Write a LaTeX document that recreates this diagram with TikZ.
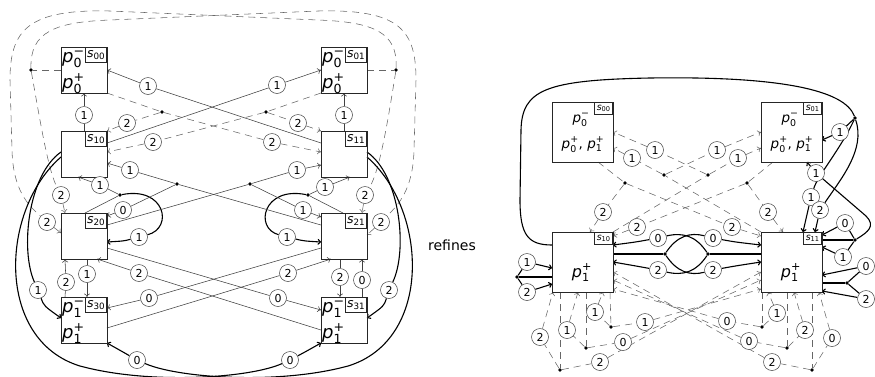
\documentclass[tikz,border=0pt]{standalone}
\usepackage{amsmath}
\usepackage{fontspec}
\setmainfont{DejaVu Sans}
\setsansfont{DejaVu Sans}
\usetikzlibrary{arrows.meta,calc}
\newcommand{\pv}[2]{$\mathit{p}_{\text{#1}}^{\text{#2}}$}
\newcommand{\sv}[1]{$\mathit{s}_{\text{#1}}$}
\pgfdeclarelayer{bg}
\pgfsetlayers{bg,main}
\begin{document}
\begin{tikzpicture}[x=1pt,y=-1pt, >={To[length=3.5pt,width=6pt]},
  box/.style={draw=black!85,line width=0.7pt,minimum width=46pt,minimum height=46pt,inner sep=0pt,outer sep=0pt,anchor=north west},
  rbox/.style={box,minimum width=61pt,minimum height=60pt},
  tag/.style={draw=black!85,line width=0.6pt,anchor=north east,inner sep=0pt,minimum width=21pt,minimum height=15pt,font=\fontsize{12.5}{12.5}\selectfont},
  rtag/.style={tag,minimum width=18pt,minimum height=12pt,font=\fontsize{9.5}{9.5}\selectfont},
  lab/.style={circle,draw=black!75,fill=white,line width=0.5pt,inner sep=0pt,minimum size=17pt,font=\fontsize{11}{11}\selectfont},
  ed/.style={draw=black!75,line width=0.55pt},
  bd/.style={draw=black,line width=1.1pt},
  dsh/.style={draw=black!60,line width=0.55pt,dash pattern=on 7pt off 5pt},
  dot/.style={circle,fill=black,inner sep=0pt,minimum size=3.6pt},
  ptxt/.style={font=\fontsize{18}{18}\selectfont,anchor=base west,inner sep=0pt},
  rtxt/.style={font=\fontsize{13.5}{13.5}\selectfont,anchor=base,inner sep=0pt}]
\useasboundingbox (0,0) rectangle (875,376);

% ---------------- left boxes
\node[box] (s00) at (61,47) {};
\node[box] (s01) at (321,47) {};
\node[box] (s10) at (61,131) {};
\node[box] (s11) at (321,131) {};
\node[box] (s20) at (61,213) {};
\node[box] (s21) at (321,213) {};
\node[box] (s30) at (61,297) {};
\node[box] (s31) at (321,297) {};
\node[tag] (t00) at (s00.north east) {\sv{00}};
\node[tag] (t01) at (s01.north east) {\sv{01}};
\node[tag] (t10) at (s10.north east) {\sv{10}};
\node[tag] (t11) at (s11.north east) {\sv{11}};
\node[tag] (t20) at (s20.north east) {\sv{20}};
\node[tag] (t21) at (s21.north east) {\sv{21}};
\node[tag] (t30) at (s30.north east) {\sv{30}};
\node[tag] (t31) at (s31.north east) {\sv{31}};
\node[ptxt] (c00a) at (62,62) {\pv{0}{−}};
\node[ptxt] (c00b) at (62,88) {\pv{0}{+}};
\node[ptxt] (c01a) at (322,62) {\pv{0}{−}};
\node[ptxt] (c01b) at (322,88) {\pv{0}{+}};
\node[ptxt] (c30a) at (62,312) {\pv{1}{−}};
\node[ptxt] (c30b) at (62,338) {\pv{1}{+}};
\node[ptxt] (c31a) at (322,312) {\pv{1}{−}};
\node[ptxt] (c31b) at (322,338) {\pv{1}{+}};

% ---------------- right boxes
\node[rbox] (r00) at (552,102) {};
\node[rbox] (r01) at (761,102) {};
\node[rbox] (r10) at (552,232) {};
\node[rbox] (r11) at (761,232) {};
\node[rtag] (q00) at (r00.north east) {\sv{00}};
\node[rtag] (q01) at (r01.north east) {\sv{01}};
\node[rtag] (q10) at (r10.north east) {\sv{10}};
\node[rtag] (q11) at (r11.north east) {\sv{11}};
\node[rtxt] (e00a) at (581,122) {\pv{0}{−}};
\node[rtxt] (e00b) at (583,148) {\pv{0}{+}, \pv{1}{+}};
\node[rtxt] (e01a) at (790,122) {\pv{0}{−}};
\node[rtxt] (e01b) at (792,148) {\pv{0}{+}, \pv{1}{+}};
\node[rtxt,font=\fontsize{16}{16}\selectfont] (e10) at (582,277) {\pv{1}{+}};
\node[rtxt,font=\fontsize{16}{16}\selectfont] (e11) at (791,277) {\pv{1}{+}};

\node[font=\fontsize{14}{14}\selectfont] (ref) at (452,245) {refines};

% ---------------- dots
\foreach \n/\x/\y in {dL/31/70,dR/396/70,d1/162/112,d2/266/112,dA/177/184,dB/250/184,dC/120/195,dD/308/195,
  dF/855/118,dE/855/240,dJ/847/283,dK/517/277,dG/665/254,dH/708/254,dP/625/183,dQ/747/183,dU/664/175,dV/708/175,
  b1/560/370,b2/586/348,b3/611/327,c1/762/327,c2/787/348,c3/812/370}
  \node[dot] (\n) at (\x,\y) {};

% ---------------- labels
\foreach \n/\x/\y/\t in {la1/84/115/1,la2/344/115/1,la3/148/86/1,la4/277/85/1,
  lb1/127/123/2,lb2/272/142/2,lb3/298/123/2,lb4/153/142/2,
  lc1/100/185/1,lc2/139/237/1,ld1/325/187/1,ld2/287/237/1,
  le1/297/170/1,le2/303/210/1,lf1/130/170/1,lf2/123/210/0,
  lg1/66/282/2,lg2/87/274/1,lg3/340/277/2,lg4/362/280/0,
  lh1/139/273/2,lh2/288/273/2,lh3/149/298/0,lh4/278/298/0,
  li1/61/195/2,li2/365/195/2,li3/381/222/2,li4/47/222/2,
  lz/38/290/1,lw/389/290/2,lY/290/360/0,lX/137/360/0,
  lr1/840/132/1,lr2/811/197/1,lr3/820/210/2,lr4/816/173/1,lr5/845/223/0,lr6/843/257/1,
  lr7/866/266/0,lr8/866/299/2,lr9/527/262/1,lr10/527/292/2,
  lm1/713/238/0,lm2/713/270/2,lm3/658/238/0,lm4/658/270/2,
  lt1/603/212/2,lt2/732/227/2,lt3/768/212/2,lt4/637/227/2,
  lu1/655/150/1,lu2/632/158/1,lu3/717/150/1,lu4/738/158/1,
  lv1/595/312/1,lv2/567/330/1,lv3/540/337/2,
  lw1/777/313/1,lw2/805/330/2,lw3/832/338/0,
  lx1/645/322/1,lx2/623/342/0,lx3/600/362/2,
  ly1/727/321/0,ly2/749/341/0,ly3/772/362/2}
  \node[lab] (\n) at (\x,\y) {\t};

\begin{pgfonlayer}{bg}
% ===== left: upper
\draw[ed,->] (s10.north) -- (la1) -- (s00.south);
\draw[ed,->] (s11.north) -- (la2) -- (s01.south);
\draw[ed,->] ($(s11.north west)+(0,12)$) -- (la3) -- (s00.east);
\draw[ed,->] ($(s10.north east)+(0,12)$) -- (la4) -- (s01.west);
\draw[dsh] (s00.south east) -- (d1);
\draw[dsh] (s01.south west) -- (d2);
\draw[dsh,->] (d1) -- (lb1) -- (s10.north east);
\draw[dsh,->] (d1) -- (lb2) -- ($(s11.north west)+(0,21)$);
\draw[dsh,->] (d2) -- (lb3) -- (s11.north west);
\draw[dsh,->] (d2) -- (lb4) -- ($(s10.north east)+(0,21)$);
% ===== left: middle
\draw[ed] ($(s20.north west)+(24,0)$) -- (dC);
\draw[ed,->] (dC) -- (lc1) -- ($(s10.south west)+(17,0)$);
\draw[bd,->] (dC) .. controls (165,186) and (174,228) .. (lc2) .. controls (124,241) .. ($(s20.north east)+(0,29)$);
\draw[ed] ($(s21.north west)+(22,0)$) -- (dD);
\draw[ed,->] (dD) -- (ld1) -- ($(s11.south west)+(29,0)$);
\draw[bd,->] (dD) .. controls (263,186) and (254,228) .. (ld2) .. controls (304,241) .. ($(s21.north west)+(0,29)$);
\draw[ed] ($(s20.north east)+(0,12)$) -- (dB);
\draw[ed,->] (dB) -- (le1) -- ($(s11.north west)+(0,34)$);
\draw[ed,->] (dB) -- (le2) -- ($(s21.north west)+(0,4)$);
\draw[ed] ($(s21.north west)+(0,12)$) -- (dA);
\draw[ed,->] (dA) -- (lf1) -- ($(s10.north east)+(0,32)$);
\draw[ed,->] (dA) -- (lf2) -- ($(s20.north east)+(0,3)$);
% ===== left: lower
\draw[ed,->] ($(s30.north west)+(4,0)$) -- (lg1) -- ($(s20.south west)+(4,0)$);
\draw[ed,->] ($(s20.south west)+(26,0)$) -- (lg2) -- ($(s30.north west)+(26,0)$);
\draw[ed,->] ($(s21.south west)+(19,0)$) -- (lg3) -- ($(s31.north west)+(19,0)$);
\draw[ed,->] ($(s31.north west)+(41,0)$) -- (lg4) -- ($(s21.south west)+(41,0)$);
\draw[ed,->] ($(s31.north west)+(0,33)$) -- (lh1) -- ($(s20.south west)+(36,0)$);
\draw[ed,->] ($(s30.north east)+(0,31)$) -- (lh2) -- ($(s21.south west)+(10,0)$);
\draw[ed,->] ($(s21.north west)+(0,35)$) -- (lh3) -- ($(s30.north east)+(0,11)$);
\draw[ed,->] ($(s20.north east)+(0,35)$) -- (lh4) -- ($(s31.north west)+(0,13)$);
% ===== left: dashed loops
\draw[dsh] (s00.west) -- (dL);
\draw[dsh] (s01.east) -- (dR);
\draw[dsh,->] (dL) .. controls (40,120) and (48,170) .. (li1) -- ($(s20.north west)+(4,0)$);
\draw[dsh,->] (dR) .. controls (388,120) and (380,170) .. (li2) -- ($(s21.north east)+(-5,0)$);
\draw[dsh,->] (dL) .. controls (30,32) and (55,22) .. (110,20) -- (318,11) .. controls (400,9) and (416,30) .. (416,80) -- (414,150) .. controls (413,190) and (398,205) .. (li3) -- ($(s21.north east)+(0,22)$);
\draw[dsh,->] (dR) .. controls (398,32) and (373,22) .. (318,20) -- (110,11) .. controls (28,9) and (10,30) .. (10,80) -- (12,150) .. controls (13,190) and (28,205) .. (li4) -- ($(s20.north west)+(0,20)$);
% ===== left: bold
\draw[bd,->] ($(s10.north west)+(0,21)$) .. controls (28,175) and (20,250) .. (lz) .. controls (44,306) .. ($(s30.north west)+(0,21)$);
\draw[bd,->] ($(s11.north east)+(0,21)$) .. controls (400,175) and (408,250) .. (lw) .. controls (384,306) .. ($(s31.north east)+(0,21)$);
\draw[bd,->] ($(s10.north west)+(0,26)$) .. controls (0,210) and (-5,340) .. (80,366) .. controls (150,385) and (250,378) .. (lY) .. controls (305,352) .. (s31.south west);
\draw[bd,->] ($(s11.north east)+(0,26)$) .. controls (428,210) and (433,340) .. (348,366) .. controls (278,385) and (178,378) .. (lX) .. controls (123,352) .. (s30.south east);

% ===== right: bold
\draw[bd] ($(r10.north west)+(0,13)$) .. controls (528,245) and (520,235) .. (520,200) -- (521,130) .. controls (522,90) and (545,80) .. (650,78) .. controls (780,76) and (845,90) .. (dF);
\draw[bd,->] (dF) -- (lr1) -- ($(r01.north east)+(0,38)$);
\draw[bd,->] (dF) .. controls (840,150) and (818,175) .. (lr2) -- ($(r11.north west)+(42,0)$);
\draw[bd,->] (dF) .. controls (866,150) and (840,180) .. (lr3) -- ($(r11.north west)+(54,0)$);
\draw[bd,->] (dE) .. controls (868,232) and (876,226) .. (866,216) -- (lr4) -- ($(r01.south west)+(46,0)$);
\draw[bd] ($(r11.north east)+(0,8)$) -- (dE);
\draw[bd,->] (dE) -- (lr5) -- ($(r11.north east)+(0,3)$);
\draw[bd,->] (dE) -- (lr6) -- ($(r11.north east)+(0,15)$);
\draw[bd] ($(r11.north east)+(0,51)$) -- (dJ);
\draw[bd,->] (dJ) -- (lr7) -- ($(r11.north east)+(0,43)$);
\draw[bd,->] (dJ) -- (lr8) -- ($(r11.north east)+(0,59)$);
\draw[bd] ($(r10.north west)+(0,45)$) -- (dK);
\draw[bd,->] (dK) -- (lr9) -- ($(r10.north west)+(0,36)$);
\draw[bd,->] (dK) -- (lr10) -- ($(r10.north west)+(0,52)$);
\draw[bd] ($(r10.north east)+(0,22)$) -- (dG);
\draw[bd] ($(r11.north west)+(0,22)$) -- (dH);
\draw[bd,->] (dG) .. controls (677,236) and (690,232) .. (lm1) .. controls (735,242) .. ($(r11.north west)+(0,13)$);
\draw[bd,->] (dG) .. controls (677,272) and (690,276) .. (lm2) .. controls (735,266) .. ($(r11.north west)+(0,30)$);
\draw[bd,->] (dH) .. controls (696,236) and (683,232) .. (lm3) .. controls (636,242) .. ($(r10.north east)+(0,13)$);
\draw[bd,->] (dH) .. controls (696,272) and (683,276) .. (lm4) .. controls (636,266) .. ($(r10.north east)+(0,30)$);
% ===== right: dashed upper
\draw[dsh] ($(r00.south west)+(46,0)$) -- (dP);
\draw[dsh] ($(r01.south west)+(12,0)$) -- (dQ);
\draw[dsh,->] (dP) -- (lt1) -- ($(r10.north west)+(38,0)$);
\draw[dsh,->] (dP) -- (lt2) -- ($(r11.north west)+(0,4)$);
\draw[dsh,->] (dQ) -- (lt3) -- ($(r11.north west)+(22,0)$);
\draw[dsh,->] (dQ) -- (lt4) -- ($(r10.north east)+(0,4)$);
\draw[dsh] (r11.north west) -- (dU);
\draw[dsh] (r10.north east) -- (dV);
\draw[dsh,->] (dV) -- (lu1) -- ($(r00.north east)+(0,30)$);
\draw[dsh,->] (dU) -- (lu2) -- ($(r00.north east)+(0,46)$);
\draw[dsh,->] (dU) -- (lu3) -- ($(r01.north west)+(0,30)$);
\draw[dsh,->] (dV) -- (lu4) -- ($(r01.north west)+(0,46)$);
% ===== right: dashed lower
\draw[dsh] ($(r10.south west)+(8,0)$) -- (b1);
\draw[dsh] ($(r10.south west)+(34,0)$) -- (b2);
\draw[dsh] ($(r10.south west)+(58,0)$) -- (b3);
\draw[dsh,->] (b3) -- (lv1) -- ($(r10.south west)+(51,0)$);
\draw[dsh,->] (b2) -- (lv2) -- ($(r10.south west)+(26,0)$);
\draw[dsh,->] (b1) -- (lv3) -- ($(r10.south west)+(1,0)$);
\draw[dsh] ($(r11.south west)+(1,0)$) -- (c1);
\draw[dsh] ($(r11.south west)+(26,0)$) -- (c2);
\draw[dsh] ($(r11.south west)+(51,0)$) -- (c3);
\draw[dsh,->] (c1) -- (lw1) -- ($(r11.south west)+(7,0)$);
\draw[dsh,->] (c2) -- (lw2) -- ($(r11.south west)+(33,0)$);
\draw[dsh,->] (c3) -- (lw3) -- ($(r11.south west)+(58,0)$);
\draw[dsh,->] (b3) -- (lx1) -- ($(r11.south west)+(0,-3)$);
\draw[dsh,->] (b2) -- (lx2) -- ($(r11.south west)+(0,-12)$);
\draw[dsh,->] (b1) -- (lx3) -- ($(r11.south west)+(0,-20)$);
\draw[dsh,->] (c1) -- (ly1) -- ($(r10.south east)+(0,-3)$);
\draw[dsh,->] (c2) -- (ly2) -- ($(r10.south east)+(0,-12)$);
\draw[dsh,->] (c3) -- (ly3) -- ($(r10.south east)+(0,-20)$);
\end{pgfonlayer}
\end{tikzpicture}
\end{document}
